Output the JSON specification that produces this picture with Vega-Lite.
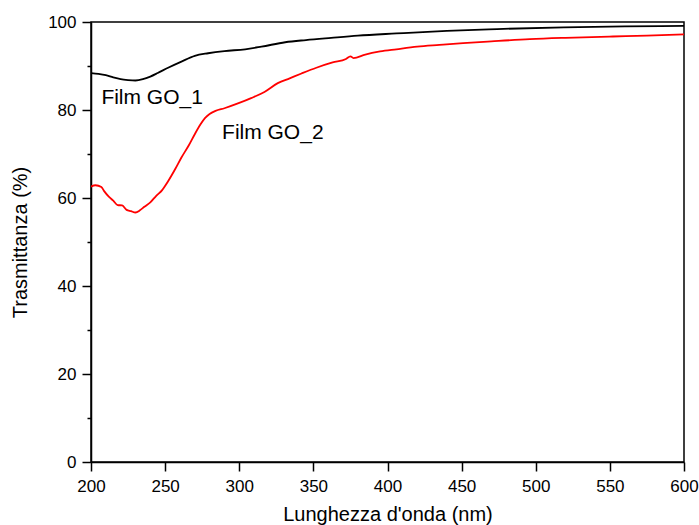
{
  "$schema": "https://vega.github.io/schema/vega-lite/v6.json",
  "width": 593,
  "height": 440,
  "autosize": {"type": "none"},
  "padding": {"left": 91, "top": 22, "right": 15, "bottom": 63},
  "background": "white",
  "config": {
    "view": {"stroke": "black", "strokeWidth": 1.5},
    "font": "Liberation Sans",
    "axis": {"domainColor": "black", "tickColor": "black", "labelColor": "black", "titleColor": "black", "grid": false, "labelFont": "Liberation Sans", "titleFont": "Liberation Sans", "titleFontWeight": "normal", "labelFontSize": 17, "titleFontSize": 20, "domainWidth": 1.5, "tickWidth": 1.5, "labelFlush": false, "labelOverlap": false}
  },
  "datasets": {
    "curves": [
      {"wl": 200, "t": 88.4, "s": "GO_1"}, {"wl": 205, "t": 88.2, "s": "GO_1"}, {"wl": 210, "t": 87.9, "s": "GO_1"}, {"wl": 215, "t": 87.4, "s": "GO_1"}, {"wl": 220, "t": 87.0, "s": "GO_1"}, {"wl": 225, "t": 86.8, "s": "GO_1"}, {"wl": 230, "t": 86.7, "s": "GO_1"}, {"wl": 235, "t": 87.0, "s": "GO_1"}, {"wl": 240, "t": 87.6, "s": "GO_1"}, {"wl": 245, "t": 88.4, "s": "GO_1"}, {"wl": 252, "t": 89.6, "s": "GO_1"}, {"wl": 261, "t": 91.0, "s": "GO_1"}, {"wl": 270, "t": 92.3, "s": "GO_1"}, {"wl": 279, "t": 92.9, "s": "GO_1"}, {"wl": 290, "t": 93.4, "s": "GO_1"}, {"wl": 304, "t": 93.8, "s": "GO_1"}, {"wl": 315, "t": 94.4, "s": "GO_1"}, {"wl": 331, "t": 95.4, "s": "GO_1"}, {"wl": 345, "t": 95.9, "s": "GO_1"}, {"wl": 362, "t": 96.4, "s": "GO_1"}, {"wl": 380, "t": 96.9, "s": "GO_1"}, {"wl": 406, "t": 97.4, "s": "GO_1"}, {"wl": 440, "t": 98.0, "s": "GO_1"}, {"wl": 474, "t": 98.4, "s": "GO_1"}, {"wl": 519, "t": 98.8, "s": "GO_1"}, {"wl": 560, "t": 99.0, "s": "GO_1"}, {"wl": 600, "t": 99.1, "s": "GO_1"},
      {"wl": 200, "t": 62.6, "s": "GO_2"}, {"wl": 203, "t": 62.9, "s": "GO_2"}, {"wl": 207, "t": 62.5, "s": "GO_2"}, {"wl": 209, "t": 61.5, "s": "GO_2"}, {"wl": 212, "t": 60.3, "s": "GO_2"}, {"wl": 215, "t": 59.4, "s": "GO_2"}, {"wl": 218, "t": 58.4, "s": "GO_2"}, {"wl": 221, "t": 58.3, "s": "GO_2"}, {"wl": 224, "t": 57.3, "s": "GO_2"}, {"wl": 227, "t": 57.0, "s": "GO_2"}, {"wl": 230, "t": 56.7, "s": "GO_2"}, {"wl": 233, "t": 57.2, "s": "GO_2"}, {"wl": 236, "t": 58.0, "s": "GO_2"}, {"wl": 240, "t": 59.0, "s": "GO_2"}, {"wl": 244, "t": 60.5, "s": "GO_2"}, {"wl": 248, "t": 61.8, "s": "GO_2"}, {"wl": 252, "t": 63.8, "s": "GO_2"}, {"wl": 257, "t": 66.7, "s": "GO_2"}, {"wl": 261, "t": 69.2, "s": "GO_2"}, {"wl": 266, "t": 72.0, "s": "GO_2"}, {"wl": 270, "t": 74.5, "s": "GO_2"}, {"wl": 274, "t": 76.8, "s": "GO_2"}, {"wl": 277, "t": 78.2, "s": "GO_2"}, {"wl": 280, "t": 79.1, "s": "GO_2"}, {"wl": 284, "t": 79.8, "s": "GO_2"}, {"wl": 290, "t": 80.4, "s": "GO_2"}, {"wl": 300, "t": 81.6, "s": "GO_2"}, {"wl": 308, "t": 82.7, "s": "GO_2"}, {"wl": 317, "t": 84.1, "s": "GO_2"}, {"wl": 326, "t": 86.1, "s": "GO_2"}, {"wl": 334, "t": 87.2, "s": "GO_2"}, {"wl": 342, "t": 88.3, "s": "GO_2"}, {"wl": 352, "t": 89.6, "s": "GO_2"}, {"wl": 363, "t": 90.8, "s": "GO_2"}, {"wl": 372, "t": 91.6, "s": "GO_2"}, {"wl": 375, "t": 92.2, "s": "GO_2"}, {"wl": 377, "t": 91.8, "s": "GO_2"}, {"wl": 385, "t": 92.6, "s": "GO_2"}, {"wl": 395, "t": 93.3, "s": "GO_2"}, {"wl": 406, "t": 93.8, "s": "GO_2"}, {"wl": 420, "t": 94.4, "s": "GO_2"}, {"wl": 435, "t": 94.8, "s": "GO_2"}, {"wl": 451, "t": 95.2, "s": "GO_2"}, {"wl": 470, "t": 95.6, "s": "GO_2"}, {"wl": 496, "t": 96.1, "s": "GO_2"}, {"wl": 520, "t": 96.4, "s": "GO_2"}, {"wl": 552, "t": 96.7, "s": "GO_2"}, {"wl": 575, "t": 96.9, "s": "GO_2"}, {"wl": 600, "t": 97.2, "s": "GO_2"}
    ],
    "labels": [
      {"wl": 207, "t": 82.7, "label": "Film GO_1"},
      {"wl": 288.4, "t": 74.8, "label": "Film GO_2"}
    ]
  },
  "layer": [
    {
      "data": {"name": "curves"},
      "mark": {"type": "line", "strokeWidth": 1.8, "clip": true, "interpolate": "monotone"},
      "encoding": {
        "x": {"field": "wl", "type": "quantitative", "scale": {"domain": [200, 600], "nice": false, "zero": false},
          "axis": {"title": "Lunghezza d'onda (nm)", "values": [200, 225, 250, 275, 300, 325, 350, 375, 400, 425, 450, 475, 500, 525, 550, 575, 600],
            "labelExpr": "datum.value % 50 === 0 ? datum.label : ''",
            "tickSize": {"condition": {"test": "datum.value % 50 === 0", "value": 9}, "value": 4},
            "labelPadding": 7, "titlePadding": 10}},
        "y": {"field": "t", "type": "quantitative", "scale": {"domain": [0, 100], "nice": false},
          "axis": {"title": "Trasmittanza (%)", "values": [0, 10, 20, 30, 40, 50, 60, 70, 80, 90, 100],
            "labelExpr": "datum.value % 20 === 0 ? datum.label : ''",
            "tickSize": {"condition": {"test": "datum.value % 20 === 0", "value": 9}, "value": 4},
            "labelPadding": 6, "titlePadding": 17}},
        "color": {"field": "s", "type": "nominal", "scale": {"domain": ["GO_1", "GO_2"], "range": ["#000000", "#ff0000"]}, "legend": null}
      }
    },
    {
      "data": {"name": "labels"},
      "mark": {"type": "text", "align": "left", "baseline": "middle", "fontSize": 21, "font": "Liberation Sans", "color": "black"},
      "encoding": {
        "x": {"field": "wl", "type": "quantitative"},
        "y": {"field": "t", "type": "quantitative"},
        "text": {"field": "label"}
      }
    }
  ]
}
